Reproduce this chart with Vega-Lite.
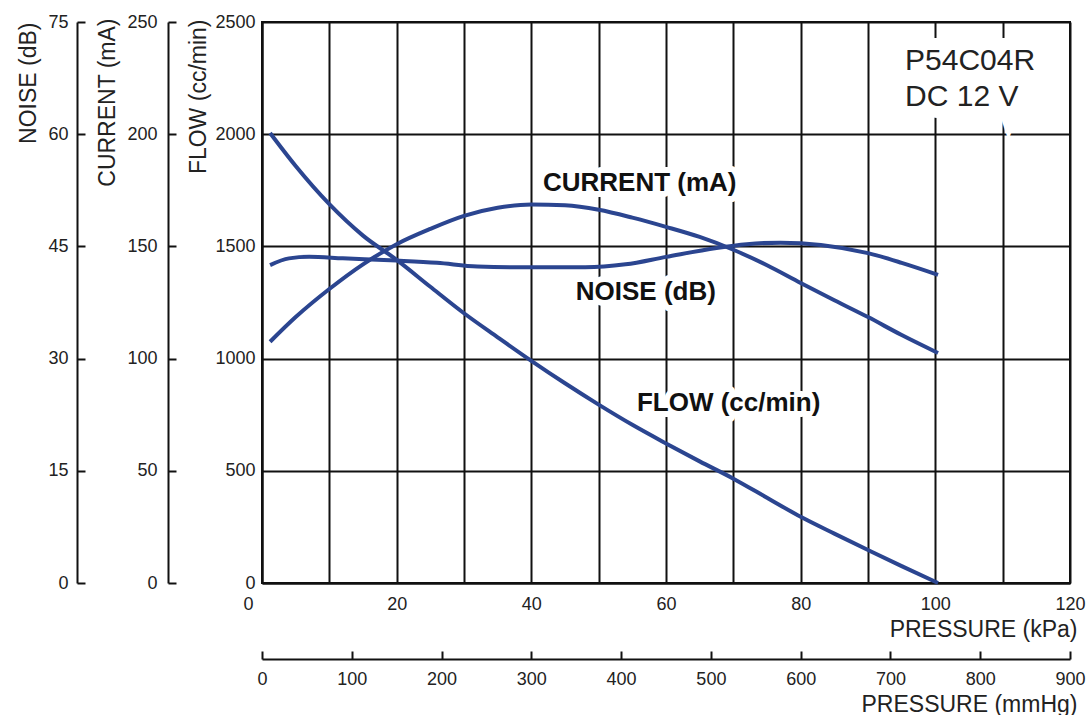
{
  "$schema": "https://vega.github.io/schema/vega-lite/v6.json",
  "width": 808,
  "height": 561,
  "autosize": {"type": "none"},
  "padding": {"left": 262, "top": 22, "right": 19, "bottom": 132},
  "background": "white",
  "config": {
    "view": {"stroke": "#111", "strokeWidth": 2},
    "font": "Liberation Sans",
    "axis": {
      "domainColor": "#111", "domainWidth": 2,
      "tickColor": "#111", "tickWidth": 2,
      "gridColor": "#111", "gridWidth": 2, "gridOpacity": 1,
      "labelColor": "#222", "labelFontSize": 18, "labelFont": "Liberation Sans",
      "titleFont": "Liberation Sans", "titleFontSize": 23, "titleFontWeight": "normal", "titleColor": "#222"
    }
  },
  "datasets": {
    "flow": [
      {"kPa": 1.2, "flow": 2005}, {"kPa": 5, "flow": 1858}, {"kPa": 10, "flow": 1688},
      {"kPa": 15, "flow": 1548}, {"kPa": 20, "flow": 1440}, {"kPa": 25, "flow": 1320},
      {"kPa": 30, "flow": 1202}, {"kPa": 35, "flow": 1095}, {"kPa": 40, "flow": 990},
      {"kPa": 45, "flow": 890}, {"kPa": 50, "flow": 795}, {"kPa": 55, "flow": 705},
      {"kPa": 60, "flow": 622}, {"kPa": 65, "flow": 542}, {"kPa": 70, "flow": 465},
      {"kPa": 75, "flow": 380}, {"kPa": 80, "flow": 295}, {"kPa": 85, "flow": 220},
      {"kPa": 90, "flow": 147}, {"kPa": 95, "flow": 75}, {"kPa": 100.4, "flow": 0}
    ],
    "current": [
      {"kPa": 1.2, "mA": 107.5}, {"kPa": 5, "mA": 118.5}, {"kPa": 10, "mA": 131},
      {"kPa": 15, "mA": 142}, {"kPa": 20, "mA": 151}, {"kPa": 25, "mA": 157.8},
      {"kPa": 30, "mA": 163.6}, {"kPa": 35, "mA": 167.2}, {"kPa": 40, "mA": 168.7},
      {"kPa": 45, "mA": 168.3}, {"kPa": 50, "mA": 166.3}, {"kPa": 55, "mA": 162.8},
      {"kPa": 60, "mA": 158.7}, {"kPa": 65, "mA": 154.2}, {"kPa": 70, "mA": 148.5},
      {"kPa": 75, "mA": 141.6}, {"kPa": 80, "mA": 133.7}, {"kPa": 85, "mA": 126},
      {"kPa": 90, "mA": 118.5}, {"kPa": 95, "mA": 110.5}, {"kPa": 100.4, "mA": 102.5}
    ],
    "noise": [
      {"kPa": 1.2, "dB": 42.5}, {"kPa": 4, "dB": 43.4}, {"kPa": 7, "dB": 43.6},
      {"kPa": 12, "dB": 43.4}, {"kPa": 20, "dB": 43.1}, {"kPa": 26, "dB": 42.8},
      {"kPa": 32, "dB": 42.3}, {"kPa": 40, "dB": 42.2}, {"kPa": 48, "dB": 42.2},
      {"kPa": 54, "dB": 42.6}, {"kPa": 60, "dB": 43.6}, {"kPa": 67.5, "dB": 44.8},
      {"kPa": 72, "dB": 45.3}, {"kPa": 77, "dB": 45.5}, {"kPa": 83, "dB": 45.2},
      {"kPa": 90, "dB": 44.1}, {"kPa": 95, "dB": 42.8}, {"kPa": 100.4, "dB": 41.2}
    ],
    "mmHg": [{"mmHg": 0}, {"mmHg": 900}],
    "curveLabels": [
      {"label": "CURRENT (mA)", "kPa": 56.1, "flow": 1782},
      {"label": "NOISE (dB)", "kPa": 57.0, "flow": 1297},
      {"label": "FLOW (cc/min)", "kPa": 69.3, "flow": 802}
    ],
    "modelLabels": [
      {"label": "P54C04R", "kPa": 95.5, "flow": 2326},
      {"label": "DC 12 V", "kPa": 95.5, "flow": 2166}
    ]
  },
  "layer": [
    {
      "data": {"name": "flow"},
      "mark": {"type": "line", "color": "#2b4590", "strokeWidth": 4, "interpolate": "monotone"},
      "encoding": {
        "x": {
          "field": "kPa", "type": "quantitative",
          "scale": {"domain": [0, 120], "nice": false, "zero": false},
          "axis": {
            "orient": "bottom", "values": [0, 10, 20, 30, 40, 50, 60, 70, 80, 90, 100, 110, 120],
            "labelExpr": "datum.value % 20 === 0 ? datum.label : ''",
            "grid": true, "ticks": false, "tickSize": 0, "labelPadding": 12,
            "labelAlign": {"condition": {"test": "datum.value === 0", "value": "right"}, "value": "center"},
            "labelOffset": {"condition": {"test": "datum.value === 0", "value": -9}, "value": 0},
            "labelFlush": false, "labelOverlap": false,
            "title": "PRESSURE (kPa)", "titleX": 815, "titleY": 46, "titleAlign": "right", "titleBaseline": "middle"
          }
        },
        "y": {
          "field": "flow", "type": "quantitative",
          "scale": {"domain": [0, 2500], "nice": false},
          "axis": {
            "orient": "left", "values": [0, 500, 1000, 1500, 2000, 2500], "format": "d",
            "grid": true, "ticks": false, "tickSize": 0, "labelPadding": 7, "labelFlush": false, "labelOverlap": false,
            "title": "FLOW (cc/min)", "titleX": -64, "titleY": -3, "titleAngle": 270, "titleAlign": "right", "titleBaseline": "middle"
          }
        }
      }
    },
    {
      "data": {"name": "current"},
      "mark": {"type": "line", "color": "#2b4590", "strokeWidth": 4, "interpolate": "monotone"},
      "encoding": {
        "x": {"field": "kPa", "type": "quantitative", "scale": {"domain": [0, 120], "nice": false, "zero": false}, "axis": null},
        "y": {
          "field": "mA", "type": "quantitative",
          "scale": {"domain": [0, 250], "nice": false},
          "axis": {
            "orient": "left", "offset": 94, "values": [0, 50, 100, 150, 200, 250],
            "grid": false, "tickSize": -8, "labelPadding": 19, "labelFlush": false, "labelOverlap": false,
            "title": "CURRENT (mA)", "titleX": -61, "titleY": -4, "titleAngle": 270, "titleAlign": "right", "titleBaseline": "middle"
          }
        }
      }
    },
    {
      "data": {"name": "noise"},
      "mark": {"type": "line", "color": "#2b4590", "strokeWidth": 4, "interpolate": "monotone"},
      "encoding": {
        "x": {"field": "kPa", "type": "quantitative", "scale": {"domain": [0, 120], "nice": false, "zero": false}, "axis": null},
        "y": {
          "field": "dB", "type": "quantitative",
          "scale": {"domain": [0, 75], "nice": false},
          "axis": {
            "orient": "left", "offset": 185, "values": [0, 15, 30, 45, 60, 75],
            "grid": false, "tickSize": -8, "labelPadding": 17, "labelFlush": false, "labelOverlap": false,
            "title": "NOISE (dB)", "titleX": -49, "titleY": 0, "titleAngle": 270, "titleAlign": "right", "titleBaseline": "middle"
          }
        }
      }
    },
    {
      "data": {"name": "mmHg"},
      "mark": {"type": "point", "opacity": 0},
      "encoding": {
        "x": {
          "field": "mmHg", "type": "quantitative",
          "scale": {"domain": [0, 900], "nice": false, "zero": false},
          "axis": {
            "orient": "bottom", "offset": 76, "values": [0, 100, 200, 300, 400, 500, 600, 700, 800, 900],
            "grid": false, "tickSize": -8, "labelPadding": 19, "labelFlush": false, "labelOverlap": false,
            "title": "PRESSURE (mmHg)", "titleX": 815, "titleY": 45, "titleAlign": "right", "titleBaseline": "middle"
          }
        }
      }
    },
    {
      "data": {"name": "curveLabels"},
      "mark": {"type": "text", "font": "Liberation Sans", "fontSize": 26, "fontWeight": "bold", "align": "center", "baseline": "middle", "stroke": "white", "strokeWidth": 12, "strokeJoin": "round", "fill": "white"},
      "encoding": {
        "x": {"field": "kPa", "type": "quantitative", "scale": {"domain": [0, 120], "nice": false, "zero": false}, "axis": null},
        "y": {"field": "flow", "type": "quantitative", "scale": {"domain": [0, 2500], "nice": false}, "axis": null},
        "text": {"field": "label"}
      }
    },
    {
      "data": {"name": "curveLabels"},
      "mark": {"type": "text", "font": "Liberation Sans", "fontSize": 26, "fontWeight": "bold", "align": "center", "baseline": "middle", "color": "#111"},
      "encoding": {
        "x": {"field": "kPa", "type": "quantitative", "scale": {"domain": [0, 120], "nice": false, "zero": false}, "axis": null},
        "y": {"field": "flow", "type": "quantitative", "scale": {"domain": [0, 2500], "nice": false}, "axis": null},
        "text": {"field": "label"}
      }
    },
    {
      "data": {"name": "modelLabels"},
      "mark": {"type": "text", "font": "Liberation Sans", "fontSize": 30, "align": "left", "baseline": "middle", "stroke": "white", "strokeWidth": 24, "strokeJoin": "miter", "fill": "white"},
      "encoding": {
        "x": {"field": "kPa", "type": "quantitative", "scale": {"domain": [0, 120], "nice": false, "zero": false}, "axis": null},
        "y": {"field": "flow", "type": "quantitative", "scale": {"domain": [0, 2500], "nice": false}, "axis": null},
        "text": {"field": "label"}
      }
    },
    {
      "data": {"name": "modelLabels"},
      "mark": {"type": "text", "font": "Liberation Sans", "fontSize": 30, "align": "left", "baseline": "middle", "color": "#222"},
      "encoding": {
        "x": {"field": "kPa", "type": "quantitative", "scale": {"domain": [0, 120], "nice": false, "zero": false}, "axis": null},
        "y": {"field": "flow", "type": "quantitative", "scale": {"domain": [0, 2500], "nice": false}, "axis": null},
        "text": {"field": "label"}
      }
    }
  ],
  "resolve": {
    "scale": {"x": "independent", "y": "independent"},
    "axis": {"x": "independent", "y": "independent"}
  }
}
